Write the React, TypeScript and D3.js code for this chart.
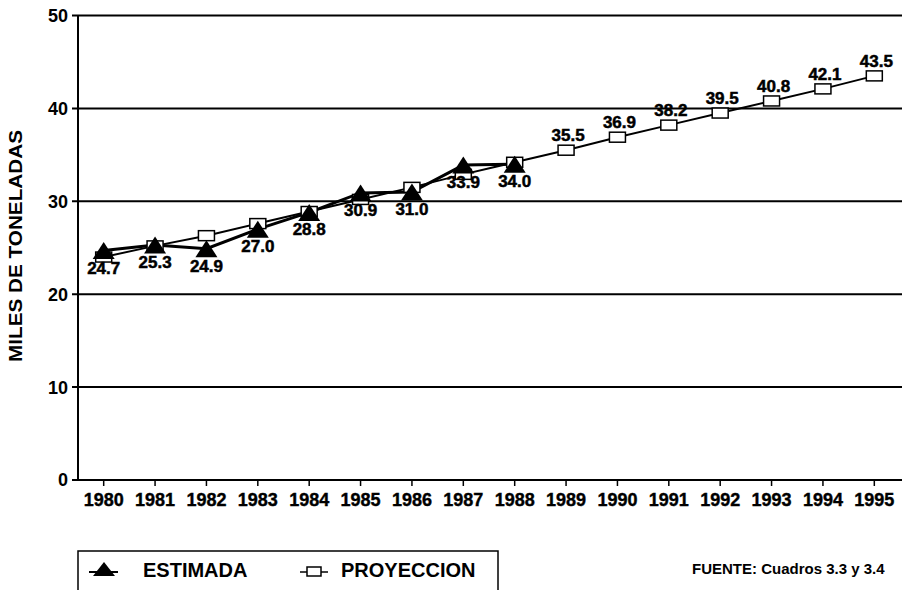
import React from "react";
import * as d3 from "d3";

const years = ["1980","1981","1982","1983","1984","1985","1986","1987","1988","1989","1990","1991","1992","1993","1994","1995"];
const estimadaYears = ["1980","1981","1982","1983","1984","1985","1986","1987","1988"];
const estimada = [24.7, 25.3, 24.9, 27.0, 28.8, 30.9, 31.0, 33.9, 34.0];
const proyeccion = [24.0, 25.2, 26.3, 27.6, 28.9, 30.2, 31.5, 32.9, 34.2, 35.5, 36.9, 38.2, 39.5, 40.8, 42.1, 43.5];
const proyeccionLabelFrom = "1989";
const yTicks = [0, 10, 20, 30, 40, 50];
const yTitle = "MILES DE TONELADAS";
const legendLabels = ["ESTIMADA", "PROYECCION"];
const sourceText = "FUENTE: Cuadros 3.3 y 3.4";

const W = 902, H = 590;
const left = 78, right = 900, top = 15.5, bottom = 480;
const FONT = "'Liberation Sans', Arial, Helvetica, sans-serif";

export default function App() {
  const x = d3.scalePoint<string>().domain(years).range([left, right]).padding(0.5);
  const y = d3.scaleLinear().domain([0, 50]).range([bottom, top]);

  const line = d3.line<[string, number]>().x(d => x(d[0]) as number).y(d => y(d[1]));
  const estPts: [string, number][] = estimadaYears.map((yr, i) => [yr, estimada[i]]);
  const proPts: [string, number][] = years.map((yr, i) => [yr, proyeccion[i]]);

  const tri = (cx: number, cy: number, w = 22, h = 17) =>
    `M${cx},${cy - h / 2} L${cx + w / 2},${cy + h / 2} L${cx - w / 2},${cy + h / 2} Z`;

  const labelFromIdx = years.indexOf(proyeccionLabelFrom);

  return (
    <svg width={W} height={H} style={{ position: "absolute", left: 0, top: 0, background: "#fff" }} fontFamily={FONT}>
      <rect x={0} y={0} width={W} height={H} fill="#fff" />
      {/* gridlines */}
      {yTicks.map(t => (
        <g key={t}>
          <line x1={left - 6} x2={W} y1={y(t)} y2={y(t)} stroke="#000" strokeWidth={2} />
          <text x={68} y={y(t)} dy="0.36em" textAnchor="end" fontSize={18} fontWeight="bold" fill="#000">{t}</text>
        </g>
      ))}
      {/* y axis */}
      <line x1={left} x2={left} y1={top} y2={bottom} stroke="#000" strokeWidth={2} />
      {/* x ticks and labels */}
      {years.map(yr => (
        <g key={yr}>
          <line x1={x(yr)} x2={x(yr)} y1={bottom} y2={bottom + 6} stroke="#000" strokeWidth={1.5} />
          <text x={x(yr)} y={bottom + 26} textAnchor="middle" fontSize={18} fontWeight="bold" fill="#000" stroke="#000" strokeWidth={0.4}>{yr}</text>
        </g>
      ))}
      {/* y title */}
      <text transform={`translate(22,246) rotate(-90)`} textAnchor="middle" fontSize={18} fontWeight="bold" fill="#000" textLength={232} lengthAdjust="spacingAndGlyphs">{yTitle}</text>

      {/* series lines */}
      <path d={line(proPts) || ""} fill="none" stroke="#000" strokeWidth={2} />
      <path d={line(estPts) || ""} fill="none" stroke="#000" strokeWidth={3} />

      {/* projection markers */}
      {proPts.map(([yr, v]) => (
        <rect key={"p" + yr} x={(x(yr) as number) - 8} y={y(v) - 5} width={16} height={10} fill="#fff" stroke="#000" strokeWidth={1.5} />
      ))}
      {/* estimated markers */}
      {estPts.map(([yr, v]) => (
        <path key={"e" + yr} d={tri(x(yr) as number, y(v))} fill="#000" />
      ))}

      {/* labels */}
      {estPts.map(([yr, v]) => (
        <text key={"le" + yr} x={x(yr)} y={y(v) + 23} textAnchor="middle" fontSize={17} fontWeight="bold" fill="#000" stroke="#000" strokeWidth={0.5}>{v.toFixed(1)}</text>
      ))}
      {proPts.slice(labelFromIdx).map(([yr, v]) => (
        <text key={"lp" + yr} x={(x(yr) as number) + 2} y={y(v) - 9} textAnchor="middle" fontSize={17} fontWeight="bold" fill="#000" stroke="#000" strokeWidth={0.5}>{v.toFixed(1)}</text>
      ))}

      {/* legend */}
      <rect x={78} y={551} width={420} height={60} fill="none" stroke="#000" strokeWidth={1.5} />
      <line x1={89} x2={118} y1={572} y2={572} stroke="#000" strokeWidth={2} />
      <path d={tri(104, 569, 22, 14)} fill="#000" />
      <text x={143} y={577} fontSize={20} fontWeight="bold" fill="#000">{legendLabels[0]}</text>
      <line x1={300} x2={328} y1={572} y2={572} stroke="#000" strokeWidth={1.5} />
      <rect x={307} y={567} width={14} height={9} fill="#fff" stroke="#000" strokeWidth={1.5} />
      <text x={341} y={577} fontSize={20} fontWeight="bold" fill="#000">{legendLabels[1]}</text>

      <text x={692} y={574} fontSize={15} fontWeight="bold" fill="#000">{sourceText}</text>
    </svg>
  );
}
